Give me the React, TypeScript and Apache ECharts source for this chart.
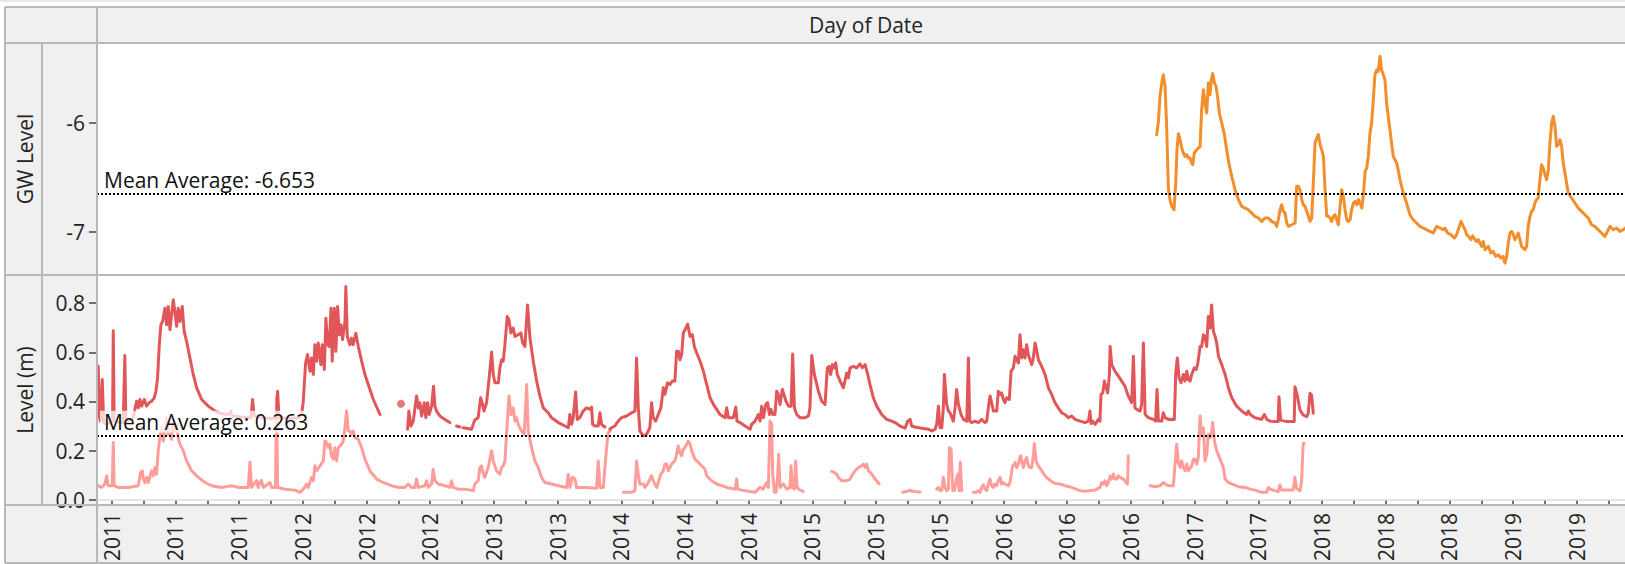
import React, { useEffect, useRef } from "react";
import * as echarts from "echarts";

// ---------- data (x = decimal year, y = value) ----------
const levelDarkSegments: number[][][] = [
  [[2011.053,0.543],[2011.059,0.341],[2011.065,0.320],[2011.076,0.489],[2011.084,0.314],[2011.101,0.307],[2011.120,0.314],[2011.135,0.320],[2011.139,0.688],[2011.144,0.320],[2011.167,0.314],[2011.196,0.314],[2011.205,0.587],[2011.211,0.320],[2011.224,0.320],[2011.253,0.334],[2011.272,0.401],[2011.282,0.374],[2011.291,0.408],[2011.301,0.381],[2011.316,0.408],[2011.329,0.381],[2011.344,0.395],[2011.358,0.401],[2011.373,0.415],[2011.383,0.442],[2011.392,0.496],[2011.402,0.631],[2011.411,0.712],[2011.421,0.726],[2011.434,0.780],[2011.444,0.712],[2011.453,0.787],[2011.463,0.692],[2011.472,0.753],[2011.482,0.814],[2011.491,0.766],[2011.501,0.706],[2011.510,0.780],[2011.520,0.726],[2011.533,0.787],[2011.544,0.685],[2011.558,0.645],[2011.577,0.577],[2011.596,0.510],[2011.615,0.456],[2011.644,0.408],[2011.682,0.381],[2011.720,0.361],[2011.758,0.350],[2011.796,0.347],[2011.811,0.358],[2011.819,0.341],[2011.872,0.337],[2011.926,0.334],[2011.935,0.408],[2011.944,0.341],[2011.987,0.334],[2012.044,0.331],[2012.072,0.334],[2012.078,0.442],[2012.086,0.334],[2012.139,0.331],[2012.196,0.334],[2012.215,0.347],[2012.224,0.395],[2012.238,0.557],[2012.249,0.591],[2012.263,0.523],[2012.272,0.577],[2012.282,0.510],[2012.291,0.631],[2012.301,0.564],[2012.310,0.638],[2012.325,0.550],[2012.333,0.631],[2012.345,0.530],[2012.354,0.739],[2012.364,0.631],[2012.373,0.624],[2012.383,0.780],[2012.390,0.564],[2012.402,0.780],[2012.411,0.604],[2012.421,0.787],[2012.430,0.672],[2012.440,0.712],[2012.449,0.652],[2012.463,0.726],[2012.468,0.868],[2012.476,0.665],[2012.491,0.631],[2012.501,0.658],[2012.510,0.631],[2012.525,0.678],[2012.539,0.624],[2012.558,0.564],[2012.577,0.510],[2012.596,0.469],[2012.625,0.408],[2012.663,0.347]],
  [[2012.821,0.287],[2012.828,0.361],[2012.840,0.300],[2012.853,0.320],[2012.872,0.422],[2012.882,0.374],[2012.891,0.395],[2012.901,0.341],[2012.916,0.395],[2012.925,0.334],[2012.935,0.395],[2012.944,0.347],[2012.958,0.381],[2012.969,0.462],[2012.977,0.381],[2012.986,0.361],[2013.005,0.341],[2013.034,0.327],[2013.062,0.314]],
  [[2013.101,0.300],[2013.120,0.296]],
  [[2013.139,0.293],[2013.186,0.287],[2013.202,0.320],[2013.209,0.327],[2013.224,0.334],[2013.238,0.415],[2013.247,0.395],[2013.257,0.361],[2013.272,0.395],[2013.285,0.483],[2013.301,0.601],[2013.310,0.510],[2013.320,0.476],[2013.339,0.476],[2013.348,0.537],[2013.358,0.570],[2013.367,0.564],[2013.377,0.631],[2013.390,0.746],[2013.400,0.733],[2013.411,0.679],[2013.424,0.699],[2013.434,0.665],[2013.453,0.672],[2013.468,0.679],[2013.478,0.638],[2013.491,0.624],[2013.506,0.793],[2013.520,0.658],[2013.539,0.564],[2013.558,0.483],[2013.577,0.422],[2013.596,0.374],[2013.624,0.354],[2013.643,0.334],[2013.682,0.314],[2013.720,0.300],[2013.739,0.293],[2013.748,0.347],[2013.758,0.307],[2013.767,0.334],[2013.781,0.439],[2013.790,0.327],[2013.805,0.334],[2013.824,0.361],[2013.843,0.374],[2013.863,0.368],[2013.872,0.377],[2013.878,0.307],[2013.891,0.300],[2013.910,0.300],[2013.920,0.354],[2013.929,0.307],[2013.948,0.296]],
  [[2013.977,0.287],[2013.986,0.293],[2014.005,0.300],[2014.024,0.320],[2014.043,0.334],[2014.072,0.341],[2014.101,0.354],[2014.120,0.361],[2014.129,0.577],[2014.139,0.374],[2014.148,0.280],[2014.167,0.260],[2014.186,0.266],[2014.205,0.293],[2014.215,0.395],[2014.224,0.334],[2014.238,0.320],[2014.253,0.347],[2014.268,0.374],[2014.282,0.456],[2014.291,0.429],[2014.306,0.476],[2014.320,0.469],[2014.333,0.483],[2014.348,0.483],[2014.358,0.604],[2014.368,0.604],[2014.377,0.570],[2014.387,0.591],[2014.396,0.679],[2014.406,0.692],[2014.421,0.715],[2014.435,0.665],[2014.448,0.672],[2014.459,0.624],[2014.473,0.597],[2014.492,0.564],[2014.511,0.523],[2014.530,0.469],[2014.549,0.415],[2014.568,0.388],[2014.587,0.368],[2014.606,0.347],[2014.635,0.334],[2014.644,0.374],[2014.654,0.334],[2014.682,0.334],[2014.696,0.377],[2014.703,0.320],[2014.720,0.314],[2014.749,0.300],[2014.778,0.287],[2014.787,0.307],[2014.806,0.320],[2014.825,0.347],[2014.835,0.320],[2014.844,0.381],[2014.854,0.334],[2014.867,0.388],[2014.878,0.395],[2014.888,0.347],[2014.897,0.368],[2014.907,0.347],[2014.920,0.347],[2014.930,0.442],[2014.939,0.429],[2014.949,0.388],[2014.962,0.449],[2014.974,0.422],[2014.983,0.401],[2014.997,0.381],[2015.012,0.381],[2015.021,0.593],[2015.031,0.374],[2015.044,0.347],[2015.063,0.334],[2015.092,0.334],[2015.111,0.341],[2015.120,0.374],[2015.130,0.587],[2015.145,0.510],[2015.168,0.442],[2015.187,0.401],[2015.206,0.388],[2015.219,0.537],[2015.229,0.543],[2015.238,0.510],[2015.248,0.550],[2015.257,0.537],[2015.267,0.557],[2015.276,0.510],[2015.292,0.483],[2015.311,0.456],[2015.330,0.516],[2015.339,0.496],[2015.349,0.537],[2015.368,0.543],[2015.387,0.537],[2015.406,0.553],[2015.419,0.537],[2015.435,0.550],[2015.450,0.510],[2015.463,0.469],[2015.482,0.415],[2015.501,0.381],[2015.530,0.347],[2015.558,0.327],[2015.587,0.320],[2015.606,0.314],[2015.635,0.300],[2015.663,0.291],[2015.678,0.320],[2015.692,0.327],[2015.701,0.300],[2015.720,0.296],[2015.758,0.291],[2015.797,0.287],[2015.816,0.280],[2015.835,0.287],[2015.844,0.307],[2015.854,0.381],[2015.863,0.293],[2015.873,0.293],[2015.882,0.374],[2015.888,0.510],[2015.901,0.388],[2015.911,0.361],[2015.920,0.354],[2015.939,0.320],[2015.949,0.374],[2015.958,0.449],[2015.968,0.388],[2015.983,0.347],[2015.997,0.327],[2016.016,0.320],[2016.025,0.577],[2016.033,0.320],[2016.044,0.314],[2016.063,0.320],[2016.082,0.314],[2016.101,0.327],[2016.120,0.314],[2016.130,0.320],[2016.139,0.374],[2016.149,0.422],[2016.158,0.395],[2016.168,0.361],[2016.187,0.361],[2016.196,0.442],[2016.206,0.429],[2016.215,0.435],[2016.225,0.408],[2016.234,0.395],[2016.244,0.415],[2016.259,0.408],[2016.269,0.523],[2016.282,0.537],[2016.292,0.584],[2016.301,0.570],[2016.311,0.557],[2016.320,0.672],[2016.330,0.577],[2016.339,0.611],[2016.349,0.577],[2016.358,0.631],[2016.368,0.591],[2016.377,0.570],[2016.387,0.550],[2016.396,0.577],[2016.406,0.638],[2016.415,0.611],[2016.425,0.570],[2016.444,0.543],[2016.463,0.510],[2016.482,0.456],[2016.501,0.429],[2016.520,0.395],[2016.539,0.374],[2016.558,0.354],[2016.577,0.347],[2016.596,0.334],[2016.615,0.341],[2016.635,0.327],[2016.663,0.320],[2016.692,0.314],[2016.711,0.320],[2016.720,0.361],[2016.726,0.310],[2016.735,0.320],[2016.749,0.307],[2016.768,0.327],[2016.777,0.320],[2016.783,0.429],[2016.793,0.435],[2016.802,0.483],[2016.812,0.456],[2016.821,0.435],[2016.831,0.510],[2016.835,0.624],[2016.844,0.550],[2016.863,0.523],[2016.882,0.503],[2016.901,0.483],[2016.920,0.462],[2016.935,0.429],[2016.949,0.408],[2016.958,0.395],[2016.968,0.584],[2016.977,0.374],[2016.987,0.368],[2017.006,0.361],[2017.015,0.388],[2017.025,0.638],[2017.035,0.347],[2017.054,0.334],[2017.082,0.327],[2017.095,0.320],[2017.103,0.449],[2017.111,0.320],[2017.130,0.320],[2017.139,0.354],[2017.149,0.334],[2017.168,0.327],[2017.202,0.327],[2017.210,0.516],[2017.219,0.577],[2017.229,0.496],[2017.240,0.476],[2017.254,0.510],[2017.263,0.483],[2017.273,0.523],[2017.282,0.489],[2017.292,0.483],[2017.301,0.510],[2017.316,0.537],[2017.326,0.530],[2017.335,0.550],[2017.349,0.624],[2017.358,0.624],[2017.368,0.672],[2017.377,0.665],[2017.387,0.624],[2017.396,0.746],[2017.406,0.699],[2017.415,0.793],[2017.425,0.685],[2017.435,0.665],[2017.444,0.638],[2017.454,0.584],[2017.473,0.550],[2017.492,0.510],[2017.511,0.456],[2017.530,0.415],[2017.558,0.381],[2017.587,0.361],[2017.615,0.347],[2017.625,0.361],[2017.635,0.347],[2017.663,0.334],[2017.701,0.327],[2017.716,0.347],[2017.730,0.327],[2017.749,0.320],[2017.766,0.318],[2017.795,0.318],[2017.800,0.419],[2017.809,0.324],[2017.843,0.318],[2017.887,0.318],[2017.891,0.460],[2017.904,0.426],[2017.920,0.365],[2017.938,0.345],[2017.958,0.338],[2017.967,0.352],[2017.977,0.433],[2017.986,0.426],[2017.996,0.352]],
];
const levelDarkIsolated: number[][] = [[2012.783, 0.391]];

const levelLightSegments: number[][][] = [
  [[2011.053,0.057],[2011.072,0.050],[2011.091,0.064],[2011.101,0.097],[2011.110,0.057],[2011.133,0.057],[2011.139,0.233],[2011.144,0.057],[2011.167,0.050],[2011.224,0.050],[2011.282,0.057],[2011.295,0.111],[2011.305,0.118],[2011.310,0.084],[2011.320,0.070],[2011.329,0.091],[2011.339,0.070],[2011.358,0.118],[2011.367,0.097],[2011.377,0.131],[2011.386,0.104],[2011.396,0.199],[2011.405,0.253],[2011.415,0.293],[2011.425,0.239],[2011.434,0.280],[2011.444,0.334],[2011.453,0.266],[2011.463,0.280],[2011.472,0.246],[2011.482,0.320],[2011.491,0.280],[2011.501,0.307],[2011.510,0.253],[2011.520,0.226],[2011.539,0.199],[2011.558,0.158],[2011.586,0.118],[2011.625,0.091],[2011.663,0.070],[2011.701,0.057],[2011.758,0.050],[2011.815,0.057],[2011.853,0.050],[2011.910,0.050],[2011.920,0.152],[2011.929,0.050],[2011.958,0.078],[2011.967,0.050],[2011.977,0.070],[2011.986,0.078],[2011.996,0.050],[2012.034,0.070],[2012.044,0.050],[2012.066,0.050],[2012.072,0.420],[2012.078,0.050],[2012.120,0.043],[2012.177,0.039],[2012.206,0.030],[2012.225,0.043],[2012.244,0.064],[2012.253,0.050],[2012.272,0.091],[2012.282,0.077],[2012.291,0.138],[2012.301,0.118],[2012.320,0.138],[2012.339,0.158],[2012.348,0.239],[2012.358,0.233],[2012.367,0.212],[2012.377,0.226],[2012.386,0.179],[2012.396,0.165],[2012.405,0.212],[2012.415,0.158],[2012.425,0.212],[2012.444,0.226],[2012.453,0.239],[2012.463,0.293],[2012.472,0.361],[2012.482,0.280],[2012.491,0.280],[2012.501,0.266],[2012.510,0.280],[2012.520,0.253],[2012.539,0.246],[2012.558,0.212],[2012.577,0.165],[2012.605,0.118],[2012.644,0.084],[2012.682,0.070],[2012.729,0.057],[2012.767,0.050],[2012.805,0.050],[2012.824,0.064],[2012.843,0.050],[2012.862,0.050],[2012.872,0.084],[2012.882,0.050],[2012.920,0.057],[2012.929,0.077],[2012.939,0.050],[2012.958,0.064],[2012.967,0.124],[2012.977,0.077],[2012.996,0.064],[2013.034,0.057],[2013.062,0.050],[2013.072,0.077],[2013.081,0.050],[2013.110,0.043],[2013.148,0.043],[2013.196,0.037],[2013.205,0.064],[2013.224,0.077],[2013.234,0.131],[2013.243,0.138],[2013.253,0.104],[2013.262,0.091],[2013.281,0.131],[2013.301,0.199],[2013.310,0.158],[2013.329,0.118],[2013.348,0.104],[2013.358,0.131],[2013.367,0.138],[2013.377,0.158],[2013.386,0.266],[2013.400,0.422],[2013.411,0.347],[2013.424,0.374],[2013.434,0.320],[2013.443,0.334],[2013.453,0.307],[2013.462,0.293],[2013.472,0.280],[2013.487,0.266],[2013.501,0.469],[2013.510,0.280],[2013.529,0.212],[2013.548,0.158],[2013.567,0.131],[2013.586,0.091],[2013.605,0.070],[2013.643,0.064],[2013.682,0.057],[2013.729,0.050],[2013.739,0.104],[2013.748,0.050],[2013.762,0.091],[2013.777,0.084],[2013.786,0.050],[2013.834,0.050],[2013.901,0.047],[2013.910,0.158],[2013.920,0.050],[2013.939,0.050],[2013.948,0.131],[2013.958,0.212],[2013.967,0.273],[2013.979,0.280]],
  [[2014.053,0.030],[2014.101,0.030],[2014.120,0.037],[2014.129,0.158],[2014.139,0.104],[2014.148,0.064],[2014.167,0.064],[2014.177,0.050],[2014.196,0.070],[2014.215,0.097],[2014.224,0.077],[2014.244,0.050],[2014.253,0.070],[2014.268,0.104],[2014.282,0.118],[2014.291,0.145],[2014.301,0.145],[2014.310,0.118],[2014.320,0.131],[2014.329,0.145],[2014.348,0.158],[2014.358,0.185],[2014.367,0.219],[2014.377,0.192],[2014.387,0.179],[2014.396,0.206],[2014.406,0.212],[2014.416,0.226],[2014.425,0.239],[2014.435,0.226],[2014.444,0.199],[2014.463,0.165],[2014.482,0.152],[2014.501,0.138],[2014.520,0.124],[2014.530,0.097],[2014.558,0.077],[2014.587,0.064],[2014.616,0.057],[2014.644,0.050],[2014.692,0.043],[2014.701,0.084],[2014.707,0.043],[2014.730,0.039],[2014.768,0.034],[2014.806,0.030],[2014.834,0.050],[2014.853,0.043],[2014.863,0.057],[2014.873,0.070],[2014.882,0.050],[2014.892,0.320],[2014.901,0.307],[2014.907,0.104],[2014.917,0.030],[2014.926,0.030],[2014.936,0.104],[2014.941,0.185],[2014.949,0.050],[2014.968,0.064],[2014.987,0.043],[2015.006,0.050],[2015.012,0.138],[2015.019,0.050],[2015.031,0.043],[2015.038,0.158],[2015.046,0.050],[2015.063,0.039],[2015.082,0.034]],
  [[2015.244,0.115],[2015.259,0.111],[2015.273,0.104],[2015.282,0.091],[2015.301,0.077],[2015.330,0.077],[2015.349,0.084],[2015.358,0.097],[2015.378,0.118],[2015.397,0.131],[2015.416,0.138],[2015.425,0.145],[2015.435,0.131],[2015.444,0.145],[2015.454,0.118],[2015.473,0.104],[2015.492,0.084],[2015.515,0.064]],
  [[2015.650,0.030],[2015.673,0.034],[2015.692,0.039],[2015.701,0.034],[2015.720,0.034],[2015.749,0.030]],
  [[2015.844,0.043],[2015.854,0.050],[2015.863,0.037],[2015.873,0.037],[2015.882,0.091],[2015.892,0.050],[2015.901,0.037],[2015.911,0.043],[2015.917,0.212],[2015.926,0.206],[2015.936,0.037],[2015.945,0.037],[2015.955,0.077],[2015.964,0.104],[2015.972,0.037],[2015.979,0.152],[2015.987,0.037]],
  [[2016.054,0.030],[2016.073,0.030],[2016.082,0.037],[2016.092,0.030],[2016.101,0.050],[2016.111,0.061],[2016.120,0.043],[2016.130,0.037],[2016.139,0.064],[2016.149,0.084],[2016.158,0.057],[2016.168,0.050],[2016.177,0.064],[2016.187,0.057],[2016.196,0.077],[2016.206,0.091],[2016.215,0.064],[2016.225,0.070],[2016.234,0.064],[2016.254,0.057],[2016.263,0.070],[2016.273,0.118],[2016.278,0.138],[2016.288,0.145],[2016.292,0.152],[2016.301,0.131],[2016.311,0.145],[2016.316,0.165],[2016.324,0.179],[2016.330,0.158],[2016.339,0.131],[2016.349,0.158],[2016.358,0.172],[2016.368,0.138],[2016.377,0.131],[2016.387,0.131],[2016.396,0.179],[2016.402,0.229],[2016.412,0.158],[2016.425,0.138],[2016.444,0.118],[2016.463,0.097],[2016.482,0.084],[2016.501,0.074],[2016.520,0.066],[2016.549,0.064],[2016.577,0.057],[2016.615,0.050],[2016.663,0.037],[2016.692,0.034],[2016.720,0.037],[2016.749,0.039],[2016.777,0.050],[2016.787,0.070],[2016.796,0.064],[2016.806,0.077],[2016.815,0.057],[2016.825,0.070],[2016.835,0.097],[2016.844,0.084],[2016.854,0.104],[2016.863,0.084],[2016.873,0.084],[2016.882,0.097],[2016.892,0.091],[2016.911,0.084],[2016.920,0.077],[2016.934,0.064],[2016.939,0.179]],
  [[2017.063,0.057],[2017.092,0.053],[2017.120,0.057],[2017.139,0.070],[2017.149,0.064],[2017.168,0.057],[2017.196,0.057],[2017.206,0.145],[2017.215,0.226],[2017.225,0.152],[2017.235,0.131],[2017.244,0.158],[2017.254,0.131],[2017.263,0.118],[2017.273,0.145],[2017.282,0.118],[2017.301,0.138],[2017.311,0.165],[2017.320,0.165],[2017.330,0.145],[2017.339,0.172],[2017.349,0.341],[2017.358,0.266],[2017.368,0.293],[2017.377,0.158],[2017.387,0.185],[2017.396,0.266],[2017.406,0.253],[2017.416,0.280],[2017.421,0.314],[2017.431,0.239],[2017.444,0.199],[2017.463,0.165],[2017.482,0.131],[2017.492,0.084],[2017.511,0.070],[2017.530,0.064],[2017.568,0.053],[2017.606,0.050],[2017.635,0.043],[2017.663,0.039],[2017.701,0.030],[2017.730,0.030],[2017.739,0.050],[2017.749,0.043],[2017.795,0.033],[2017.805,0.060],[2017.814,0.039],[2017.881,0.039],[2017.891,0.091],[2017.900,0.046],[2017.920,0.037],[2017.929,0.073],[2017.938,0.229],[2017.944,0.229]],
];

const gwLevel: number[][] = [
  [2017.101,-6.107],[2017.111,-5.985],[2017.120,-5.755],[2017.130,-5.633],[2017.139,-5.557],[2017.149,-5.664],[2017.158,-6.031],[2017.168,-6.612],[2017.177,-6.703],[2017.187,-6.764],[2017.200,-6.795],[2017.210,-6.550],[2017.217,-6.245],[2017.225,-6.098],[2017.235,-6.153],[2017.244,-6.229],[2017.254,-6.275],[2017.263,-6.306],[2017.273,-6.290],[2017.282,-6.321],[2017.292,-6.321],[2017.301,-6.367],[2017.307,-6.382],[2017.316,-6.275],[2017.330,-6.245],[2017.349,-6.214],[2017.358,-5.878],[2017.368,-5.694],[2017.377,-5.816],[2017.387,-5.908],[2017.396,-5.633],[2017.406,-5.740],[2017.412,-5.618],[2017.421,-5.547],[2017.431,-5.633],[2017.440,-5.664],[2017.450,-5.771],[2017.459,-5.908],[2017.473,-6.000],[2017.488,-6.107],[2017.501,-6.245],[2017.515,-6.382],[2017.530,-6.489],[2017.549,-6.612],[2017.568,-6.703],[2017.587,-6.764],[2017.606,-6.780],[2017.625,-6.795],[2017.644,-6.826],[2017.663,-6.856],[2017.682,-6.871],[2017.701,-6.902],[2017.720,-6.871],[2017.739,-6.871],[2017.758,-6.902],[2017.777,-6.917],[2017.787,-6.948],[2017.796,-6.887],[2017.806,-6.795],[2017.815,-6.749],[2017.825,-6.810],[2017.835,-6.826],[2017.844,-6.917],[2017.854,-6.948],[2017.873,-6.933],[2017.892,-6.917],[2017.901,-6.581],[2017.911,-6.581],[2017.920,-6.612],[2017.930,-6.703],[2017.939,-6.749],[2017.949,-6.764],[2017.958,-6.810],[2017.968,-6.856],[2017.977,-6.902],[2017.987,-6.871],[2017.996,-6.550],[2018.006,-6.183],[2018.015,-6.138],[2018.025,-6.107],[2018.035,-6.199],[2018.044,-6.245],[2018.054,-6.306],[2018.063,-6.612],[2018.073,-6.856],[2018.082,-6.856],[2018.092,-6.871],[2018.101,-6.902],[2018.111,-6.856],[2018.120,-6.841],[2018.130,-6.887],[2018.139,-6.933],[2018.149,-6.764],[2018.158,-6.612],[2018.168,-6.673],[2018.177,-6.795],[2018.187,-6.887],[2018.196,-6.902],[2018.206,-6.887],[2018.215,-6.795],[2018.225,-6.734],[2018.235,-6.719],[2018.244,-6.749],[2018.254,-6.703],[2018.263,-6.734],[2018.273,-6.780],[2018.282,-6.657],[2018.292,-6.443],[2018.301,-6.413],[2018.310,-6.306],[2018.320,-6.092],[2018.329,-6.000],[2018.339,-5.786],[2018.348,-5.557],[2018.358,-5.511],[2018.367,-5.526],[2018.377,-5.388],[2018.386,-5.511],[2018.396,-5.557],[2018.405,-5.602],[2018.415,-5.816],[2018.424,-5.939],[2018.434,-6.061],[2018.443,-6.183],[2018.453,-6.306],[2018.472,-6.367],[2018.481,-6.428],[2018.491,-6.520],[2018.510,-6.642],[2018.529,-6.734],[2018.548,-6.841],[2018.567,-6.887],[2018.586,-6.917],[2018.605,-6.948],[2018.624,-6.963],[2018.643,-6.979],[2018.662,-6.994],[2018.681,-7.009],[2018.701,-6.948],[2018.720,-6.963],[2018.739,-6.979],[2018.748,-6.963],[2018.763,-7.009],[2018.782,-7.024],[2018.802,-7.055],[2018.815,-7.024],[2018.824,-6.979],[2018.840,-6.902],[2018.853,-6.948],[2018.863,-6.979],[2018.872,-7.024],[2018.882,-7.040],[2018.897,-7.070],[2018.906,-7.034],[2018.920,-7.070],[2018.929,-7.086],[2018.939,-7.070],[2018.948,-7.101],[2018.958,-7.131],[2018.967,-7.086],[2018.977,-7.162],[2018.996,-7.131],[2019.011,-7.193],[2019.024,-7.177],[2019.038,-7.223],[2019.053,-7.208],[2019.068,-7.238],[2019.081,-7.223],[2019.091,-7.284],[2019.101,-7.223],[2019.110,-7.101],[2019.120,-7.009],[2019.129,-6.994],[2019.139,-7.024],[2019.148,-7.070],[2019.158,-7.040],[2019.167,-7.009],[2019.177,-7.070],[2019.186,-7.131],[2019.196,-7.147],[2019.205,-7.162],[2019.215,-7.131],[2019.224,-6.948],[2019.234,-6.856],[2019.243,-6.810],[2019.253,-6.795],[2019.262,-6.734],[2019.272,-6.703],[2019.281,-6.688],[2019.291,-6.520],[2019.300,-6.382],[2019.310,-6.413],[2019.320,-6.474],[2019.329,-6.520],[2019.339,-6.428],[2019.348,-6.183],[2019.358,-6.000],[2019.367,-5.939],[2019.377,-6.031],[2019.386,-6.214],[2019.396,-6.199],[2019.405,-6.153],[2019.415,-6.214],[2019.424,-6.367],[2019.434,-6.459],[2019.443,-6.550],[2019.453,-6.642],[2019.472,-6.688],[2019.491,-6.734],[2019.510,-6.780],[2019.529,-6.810],[2019.548,-6.841],[2019.567,-6.871],[2019.586,-6.933],[2019.605,-6.948],[2019.624,-6.979],[2019.643,-7.009],[2019.662,-7.040],[2019.672,-7.009],[2019.691,-6.948],[2019.710,-6.979],[2019.729,-6.963],[2019.748,-6.994],[2019.767,-6.979],[2019.777,-6.963],
];

const gwMean = -6.653;
const levelMean = 0.263;
const gwTicks = [-7, -6];
const levelTicks = [0, 0.2, 0.4, 0.6, 0.8];
const xFirstLabel = 2011.13;
const xLabelStep = 0.364;
const xMin = 2011.046;
const xMax = 2019.777;
const gwMin = -7.394;
const gwMax = -5.266;
const levelMin = -0.0174;
const levelMax = 0.915;

const FONT = "'Open Sans', 'Noto Sans', sans-serif";
const BORDER = "#b8b8b8";
const PANEL = "#f0f0f0";
const FS = 21;

function joinSegments(segs: number[][][]): any[] {
  const out: any[] = [];
  segs.forEach((s, i) => {
    if (i > 0) out.push([(segs[i - 1][segs[i - 1].length - 1][0] + s[0][0]) / 2, "-"]);
    s.forEach((p) => out.push(p));
  });
  return out;
}

export default function App() {
  const ref = useRef<HTMLDivElement>(null);
  useEffect(() => {
    if (!ref.current) return;
    const chart = echarts.init(ref.current, undefined, { renderer: "svg" });

    const labelVals: number[] = [];
    for (let v = xFirstLabel; v <= xMax; v += xLabelStep) labelVals.push(+v.toFixed(4));
    const tickVals: number[] = [];
    for (let v = xFirstLabel - xLabelStep / 2; v <= xMax; v += xLabelStep / 2) {
      if (v >= xMin) tickVals.push(+v.toFixed(4));
    }

    const hLine = (y: number) => ({
      type: "line", z: 100, silent: true,
      shape: { x1: 5, y1: y, x2: 1625, y2: y },
      style: { stroke: BORDER, lineWidth: 2 },
    });
    const vLine = (x: number, y1: number, y2: number) => ({
      type: "line", z: 100, silent: true,
      shape: { x1: x, y1, x2: x, y2 },
      style: { stroke: BORDER, lineWidth: 2 },
    });

    const meanLabel = (text: string) => ({
      show: true,
      position: "insideStartTop",
      formatter: text,
      color: "#111",
      fontSize: FS,
      fontFamily: FONT,
      backgroundColor: "rgba(255,255,255,0.72)",
      padding: [1, 4, 0, 4],
      distance: 3,
    });

    const option: any = {
      animation: false,
      backgroundColor: "#ffffff",
      textStyle: { fontFamily: FONT },
      grid: [
        { left: 97, top: 43, width: 1528, height: 232 },
        { left: 97, top: 275, width: 1528, height: 230 },
      ],
      xAxis: [
        {
          gridIndex: 0, type: "value", min: xMin, max: xMax,
          axisLine: { show: false }, axisTick: { show: false },
          axisLabel: { show: false }, splitLine: { show: false },
        },
        {
          gridIndex: 1, type: "value", min: xMin, max: xMax,
          axisLine: { show: false },
          axisTick: { show: true, customValues: tickVals, length: 5, lineStyle: { color: "#444", width: 1.5 } },
          axisLabel: {
            show: true, customValues: labelVals, rotate: 90, margin: 9,
            fontSize: FS, color: "#222", fontFamily: FONT,
            formatter: (v: number) => String(Math.floor(v + 1e-6)),
          },
          splitLine: { show: false },
        },
      ],
      yAxis: [
        {
          gridIndex: 0, type: "value", min: gwMin, max: gwMax,
          axisLine: { show: false },
          axisTick: { show: true, customValues: gwTicks, length: 8, lineStyle: { color: "#444", width: 1.5 } },
          axisLabel: {
            show: true, customValues: gwTicks, margin: 12, fontSize: FS, color: "#222", fontFamily: FONT,
            formatter: (v: number) => String(v),
          },
          splitLine: { show: false },
        },
        {
          gridIndex: 1, type: "value", min: levelMin, max: levelMax,
          axisLine: { show: false },
          axisTick: { show: true, customValues: levelTicks, length: 8, lineStyle: { color: "#444", width: 1.5 } },
          axisLabel: {
            show: true, customValues: levelTicks, margin: 12, fontSize: FS, color: "#222", fontFamily: FONT,
            formatter: (v: number) => v.toFixed(1),
          },
          splitLine: { show: false },
        },
      ],
      series: [
        {
          name: "GW Level", type: "line", xAxisIndex: 0, yAxisIndex: 0,
          data: gwLevel, showSymbol: false, silent: true,
          lineStyle: { color: "#f28e2b", width: 3, join: "round", cap: "round" },
          markLine: {
            silent: true, symbol: "none", z: 10,
            lineStyle: { color: "#000", type: [2, 2], width: 2 },
            label: meanLabel("Mean Average: " + gwMean.toFixed(3)),
            data: [{ yAxis: gwMean }],
          },
        },
        {
          name: "Level light", type: "line", xAxisIndex: 1, yAxisIndex: 1,
          data: joinSegments(levelLightSegments), showSymbol: false, silent: true,
          lineStyle: { color: "#ff9d9a", width: 3, join: "round", cap: "round" },
          markLine: {
            silent: true, symbol: "none", z: 1,
            lineStyle: { color: "#dcdcdc", type: "solid", width: 1.5 },
            label: { show: false },
            data: [{ yAxis: 0 }],
          },
        },
        {
          name: "Level", type: "line", xAxisIndex: 1, yAxisIndex: 1,
          data: joinSegments(levelDarkSegments), showSymbol: false, silent: true,
          lineStyle: { color: "#e15759", width: 3, join: "round", cap: "round" },
          markLine: {
            silent: true, symbol: "none", z: 10,
            lineStyle: { color: "#000", type: [2, 2], width: 2 },
            label: meanLabel("Mean Average: " + levelMean.toFixed(3)),
            data: [{ yAxis: levelMean }],
          },
        },
        {
          name: "Level point", type: "scatter", xAxisIndex: 1, yAxisIndex: 1,
          data: levelDarkIsolated, symbolSize: 8, silent: true,
          itemStyle: { color: "#e15759" },
        },
      ],
      graphic: [
        { type: "rect", z: -10, silent: true, shape: { x: 0, y: 0, width: 1625, height: 2 }, style: { fill: "#e8e8ec" } },
        { type: "rect", z: -10, silent: true, shape: { x: 5, y: 7, width: 1620, height: 36 }, style: { fill: PANEL } },
        { type: "rect", z: -10, silent: true, shape: { x: 5, y: 43, width: 92, height: 520 }, style: { fill: PANEL } },
        { type: "rect", z: -10, silent: true, shape: { x: 97, y: 505, width: 1528, height: 58 }, style: { fill: PANEL } },
        hLine(7), hLine(43), hLine(275), hLine(505), hLine(563),
        vLine(5, 7, 563), vLine(97, 7, 563), vLine(42, 43, 505),
        {
          type: "text", z: 101, silent: true, x: 866, y: 25,
          style: { text: "Day of Date", fontSize: FS, fontFamily: FONT, fill: "#222", align: "center", verticalAlign: "middle" },
        },
        {
          type: "text", z: 101, silent: true, x: 25, y: 159, rotation: Math.PI / 2,
          style: { text: "GW Level", fontSize: FS, fontFamily: FONT, fill: "#222", align: "center", verticalAlign: "middle" },
        },
        {
          type: "text", z: 101, silent: true, x: 25, y: 390, rotation: Math.PI / 2,
          style: { text: "Level (m)", fontSize: FS, fontFamily: FONT, fill: "#222", align: "center", verticalAlign: "middle" },
        },
      ],
    };
    chart.setOption(option);
    return () => chart.dispose();
  }, []);
  return <div ref={ref} style={{ position: "absolute", left: 0, top: 0, width: 1625, height: 564 }} />;
}
